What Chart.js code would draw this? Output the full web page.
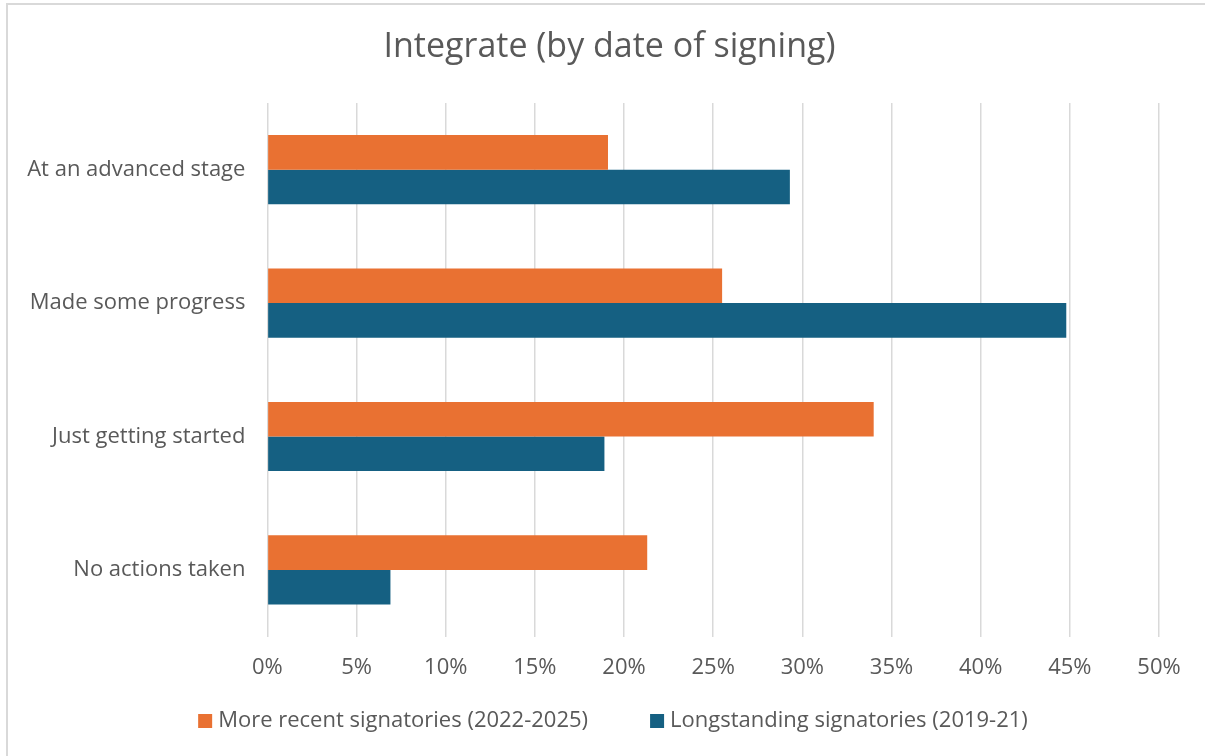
<!DOCTYPE html>
<html>
<head>
<meta charset="utf-8">
<script src="https://cdn.jsdelivr.net/npm/chart.js@4/dist/chart.umd.min.js"></script>
<style>
  html, body { margin: 0; padding: 0; background: #fff; }
  #wrap { width: 1205px; height: 756px; position: relative; }
</style>
</head>
<body>
<div id="wrap"><canvas id="chart" width="1205" height="756"></canvas></div>
<script>
// ===== Datos =====
const chartTitle = 'Integrate (by date of signing)';
const categories = ['At an advanced stage', 'Made some progress', 'Just getting started', 'No actions taken'];
const recentLabel = 'More recent signatories (2022-2025)';
const recentValues = [19.1, 25.5, 34.0, 21.3];
const longLabel = 'Longstanding signatories (2019-21)';
const longValues = [29.3, 44.8, 18.9, 6.9];
const xTicks = [0, 5, 10, 15, 20, 25, 30, 35, 40, 45, 50];

const FONT = '"Open Sans", sans-serif';
const TEXT = '#595959';
const GRID = '#d9d9d9';

// marco exterior + título (centrado como en el original, algo a la derecha)
const framePlugin = {
  id: 'frame',
  beforeDraw(chart) {
    const c = chart.ctx;
    c.save();
    c.fillStyle = '#fff';
    c.fillRect(0, 0, chart.width, chart.height);
    c.strokeStyle = GRID;
    c.lineWidth = 2;
    c.strokeRect(7, 4, chart.width + 10, chart.height + 10);
    c.font = '34px ' + FONT;
    c.fillStyle = TEXT;
    c.textAlign = 'center';
    c.textBaseline = 'middle';
    c.fillText(chartTitle, 609.5, 47);
    c.restore();
  }
};

// leyenda inferior (a mano, para controlar posición)
const bottomLegend = {
  id: 'bottomLegend',
  afterDraw(chart) {
    const c = chart.ctx;
    const y = 721;
    const box = 14, gap = 6, between = 62;
    c.save();
    c.font = '22px ' + FONT;
    c.textBaseline = 'middle';
    const items = chart.data.datasets.map(d => ({ label: d.label, color: d.backgroundColor, w: c.measureText(d.label).width }));
    const total = items.reduce((s, it) => s + box + gap + it.w, 0) + between * (items.length - 1);
    let x = 613 - total / 2;
    items.forEach(it => {
      c.fillStyle = it.color;
      c.fillRect(x, y - box / 2, box, box);
      x += box + gap;
      c.fillStyle = TEXT;
      c.fillText(it.label, x, y);
      x += it.w + between;
    });
    c.restore();
  }
};

new Chart(document.getElementById('chart'), {
  type: 'bar',
  data: {
    labels: categories,
    datasets: [
      { label: recentLabel, data: recentValues, backgroundColor: '#E97132' },
      { label: longLabel,   data: longValues,   backgroundColor: '#156082' },
    ]
  },
  options: {
    indexAxis: 'y',
    responsive: false,
    animation: false,
    categoryPercentage: 0.519,
    barPercentage: 1,
    layout: { padding: { left: 7, right: 46, top: 103, bottom: 0 } },
    plugins: {
      legend: { display: false },
      tooltip: { enabled: false },
      title: { display: false }
    },
    scales: {
      x: {
        min: 0, max: 50,
        afterBuildTicks(s) { s.ticks = xTicks.map(v => ({ value: v })); },
        afterFit(s) { s.height = 119.4; },
        ticks: { color: TEXT, font: { family: FONT, size: 22 }, padding: 18, callback: v => v + '%' },
        grid: { color: GRID, lineWidth: 1.5, drawTicks: false },
        border: { display: false }
      },
      y: {
        afterFit(s) { s.width = 260.4; },
        ticks: { color: TEXT, font: { family: FONT, size: 22 }, padding: 22 },
        grid: { display: false, drawTicks: false },
        border: { display: false }
      }
    }
  },
  plugins: [framePlugin, bottomLegend]
});
</script>
</body>
</html>
